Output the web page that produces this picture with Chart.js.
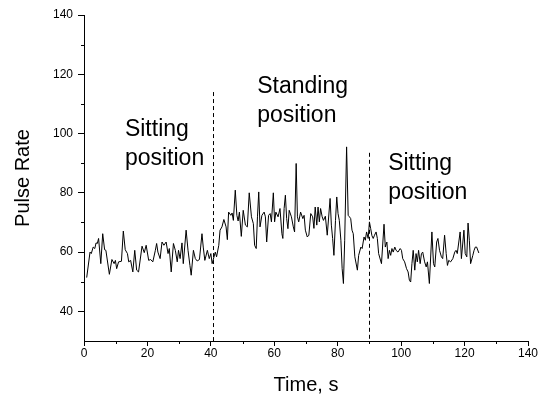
<!DOCTYPE html>
<html><head><meta charset="utf-8">
<script src="https://cdn.jsdelivr.net/npm/chart.js@4.4.1/dist/chart.umd.min.js"></script>
<style>html,body{margin:0;padding:0;background:#fff}#wrap{width:540px;height:400px}</style>
</head><body><div id="wrap"><canvas id="c" width="540" height="400"></canvas></div>
<script>
const times = [0.85,1.9,2.3,2.9,3.4,3.8,4.2,4.6,5.3,5.9,6.5,6.9,8.0,8.8,9.5,9.9,10.3,10.9,11.8,12.4,13.0,13.7,14.1,14.7,15.4,16.0,16.6,17.2,18.3,19.0,19.6,20.4,21.0,21.7,22.5,22.9,23.3,24.0,24.6,25.2,25.9,26.5,26.9,27.5,28.2,28.8,29.4,29.8,30.3,30.9,31.3,32.2,32.8,33.4,33.8,34.5,35.1,35.7,36.4,37.2,37.6,38.1,38.9,39.5,40.0,40.4,41.4,41.8,42.5,42.9,43.5,44.1,44.8,45.2,45.6,46.3,46.7,47.1,47.7,48.2,48.6,49.0,49.6,50.2,50.9,51.5,52.1,52.8,53.4,53.8,54.3,54.7,55.1,55.5,56.1,56.8,57.2,57.6,58.2,58.7,59.1,59.7,60.1,60.5,61.2,61.8,62.4,62.7,63.1,63.5,63.9,64.3,64.7,65.4,66.0,66.4,66.9,67.3,67.7,68.3,69.0,69.4,69.8,70.4,70.9,71.5,72.1,72.5,72.9,73.4,73.8,74.2,74.6,75.1,75.5,76.1,76.7,77.6,78.0,78.4,78.8,79.3,79.7,80.1,80.5,81.0,81.4,81.8,82.2,82.8,83.3,83.7,84.1,84.5,84.9,85.4,86.2,86.6,87.3,87.7,88.3,88.7,89.1,89.6,90.0,90.4,90.8,91.2,91.6,92.1,92.5,92.9,93.8,94.6,95.0,95.5,95.9,96.3,96.7,97.1,97.5,98.0,98.4,99.0,99.7,100.1,100.5,101.1,101.7,102.2,102.6,103.0,103.4,103.8,104.3,104.7,105.1,105.5,106.0,106.4,106.8,107.4,107.9,108.3,108.9,109.7,110.2,110.6,111.2,111.6,112.1,112.7,113.1,113.7,114.2,114.6,115.0,115.6,116.3,116.9,117.3,117.7,118.6,119.0,119.8,120.2,120.7,121.1,121.5,121.9,122.6,123.0,123.4,123.8,124.5];
const pulseRate = [51.4,60.0,59.5,61.7,61.2,63.1,62.9,64.6,56.1,66.2,60.8,60.6,52.5,57.5,56.1,57.2,54.4,56.7,56.9,67.1,60.8,59.5,56.7,57.2,53.3,60.6,53.9,53.3,62.0,59.8,62.3,57.2,57.5,56.7,60.6,62.9,60.0,57.8,63.4,62.3,63.4,59.5,61.2,53.3,62.9,60.6,56.7,60.6,57.8,63.1,56.1,67.4,60.6,55.5,52.2,60.6,57.8,57.0,57.5,66.2,61.7,57.2,60.6,57.8,59.5,56.1,60.0,58.4,62.3,67.4,68.5,71.0,68.5,64.2,73.5,72.4,73.2,70.7,80.9,72.4,70.5,73.5,65.3,74.1,69.1,68.5,80.0,71.9,69.6,62.3,61.2,71.9,80.3,68.5,72.4,73.5,71.9,63.4,72.4,73.0,70.2,80.0,70.2,73.5,71.9,74.7,66.2,64.6,74.7,79.2,71.3,67.9,74.1,71.9,68.5,66.8,89.9,71.9,70.2,73.5,71.3,72.4,67.4,65.1,65.7,73.0,71.9,68.0,75.2,69.1,75.2,70.2,74.7,71.9,70.7,72.1,65.7,78.1,69.1,64.6,58.9,70.7,78.6,73.0,70.7,64.0,54.4,49.4,64.0,95.5,72.4,71.9,71.3,67.4,66.2,58.4,53.9,58.9,61.7,61.2,65.1,64.0,66.8,64.6,70.2,67.9,65.5,64.6,65.7,66.8,64.6,59.5,56.1,69.4,61.7,63.4,57.8,60.6,58.9,61.2,60.0,61.7,60.6,60.0,61.2,60.6,57.8,56.7,54.4,53.3,50.5,49.9,56.1,60.6,53.9,59.5,56.7,60.6,56.1,59.5,60.0,56.7,55.0,56.7,49.4,66.8,56.1,55.0,63.4,64.6,60.6,58.4,57.8,65.7,59.5,55.5,57.2,56.7,57.8,60.0,60.6,59.5,66.8,57.8,67.4,59.5,58.4,69.8,64.0,56.1,58.9,60.6,61.7,61.7,59.7];
const xTicks = [0,20,40,60,80,100,120,140];
const yTicks = [40,60,80,100,120,140];
const xMinorTicks = [10,30,50,70,90,110,130];
const yMinorTicks = [50,70,90,110,130];
const phaseBoundaries = [40.7, 89.8];
const boundaryTops = [114, 93.5];
const phaseLabels = [["Sitting","position"],["Standing","position"],["Sitting","position"]];
const xTitle = "Time, s";
const yTitle = "Pulse Rate";

const FONT = '"Liberation Sans", Arial, sans-serif';

const extras = {
  id: 'extras',
  afterDatasetsDraw(chart, args, opts) {
    const {ctx, scales: {x, y}, chartArea} = chart;
    ctx.save();
    ctx.strokeStyle = '#000';
    ctx.lineWidth = 1;
    ctx.beginPath();
    xMinorTicks.forEach(v => {
      const px = Math.round(x.getPixelForValue(v)) + 0.5;
      ctx.moveTo(px, chartArea.bottom);
      ctx.lineTo(px, chartArea.bottom + opts.minorLen);
    });
    yMinorTicks.forEach(v => {
      const py = Math.round(y.getPixelForValue(v)) + 0.5;
      ctx.moveTo(chartArea.left, py);
      ctx.lineTo(chartArea.left - opts.minorLen, py);
    });
    ctx.stroke();
    ctx.setLineDash([4, 3]);
    phaseBoundaries.forEach((t, i) => {
      const px = Math.round(x.getPixelForValue(t)) + 0.5;
      ctx.beginPath();
      ctx.moveTo(px, y.getPixelForValue(boundaryTops[i]));
      ctx.lineTo(px, chartArea.bottom);
      ctx.stroke();
    });
    ctx.setLineDash([]);
    ctx.font = opts.fontSize + 'px ' + FONT;
    ctx.fillStyle = '#000';
    ctx.textAlign = 'left';
    ctx.textBaseline = 'alphabetic';
    opts.positions.forEach((p, i) => {
      phaseLabels[i].forEach((line, j) => {
        ctx.fillText(line, x.getPixelForValue(p.x), y.getPixelForValue(p.y) + j * opts.lineGap);
      });
    });
    ctx.restore();
  }
};

new Chart(document.getElementById('c'), {
  type: 'line',
  data: {
    datasets: [{
      data: times.map((t, i) => ({x: t, y: pulseRate[i]})),
      borderColor: '#000',
      borderWidth: 1,
      pointRadius: 0,
      tension: 0,
      fill: false
    }]
  },
  options: {
    responsive: false,
    animation: false,
    devicePixelRatio: 1,
    layout: {padding: {left: 0, right: 12, top: 15, bottom: 0}},
    plugins: {
      legend: {display: false},
      tooltip: {enabled: false},
      extras: {
        minorLen: 3,
        fontSize: 23,
        lineGap: 29,
        positions: [{x: 12.9, y: 99.2}, {x: 54.6, y: 113.6}, {x: 95.9, y: 87.6}]
      }
    },
    scales: {
      x: {
        type: 'linear',
        min: 0, max: 140,
        afterBuildTicks: s => { s.ticks = xTicks.map(v => ({value: v})); },
        afterFit: s => { s.height = 59; s.paddingLeft = 0; s.paddingRight = 0; },
        grid: {display: true, drawOnChartArea: false, drawTicks: true, tickLength: 5, color: '#000'},
        border: {display: true, color: '#000', width: 1},
        ticks: {color: '#000', font: {size: 12, family: FONT}, padding: 0, maxRotation: 0, autoSkip: false},
        title: {display: true, text: xTitle, color: '#000', font: {size: 20, family: FONT}, padding: {top: 0, bottom: 3}}
      },
      y: {
        type: 'linear',
        min: 30, max: 140,
        afterBuildTicks: s => { s.ticks = yTicks.map(v => ({value: v})); },
        afterFit: s => { s.width = 84; s.paddingTop = 0; s.paddingBottom = 0; },
        grid: {display: true, drawOnChartArea: false, drawTicks: true, tickLength: 6, color: '#000'},
        border: {display: true, color: '#000', width: 1},
        ticks: {color: '#000', font: {size: 12, family: FONT}, padding: 5, autoSkip: false},
        title: {display: true, text: yTitle, color: '#000', font: {size: 20, family: FONT}, padding: {top: 11, bottom: 0}}
      }
    }
  },
  plugins: [extras]
});
</script>
</body></html>
